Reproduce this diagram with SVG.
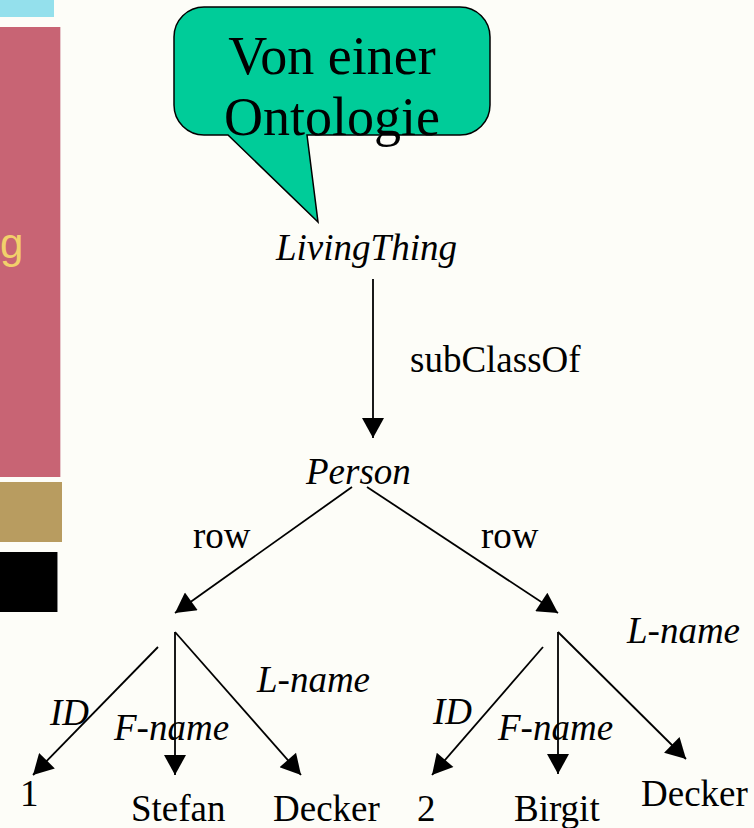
<svg xmlns="http://www.w3.org/2000/svg" width="754" height="828" viewBox="0 0 754 828">
  <style>
    .t { font-family: "Liberation Serif", "Times New Roman", serif; font-size: 37px; fill: #000; }
    .i { font-style: italic; }
    .c { text-anchor: middle; }
    .big { font-size: 54px; }
    .edge { stroke: #000; stroke-width: 1.8; fill: none; marker-end: url(#arrow); }
  </style>
  <defs>
    <marker id="arrow" markerUnits="userSpaceOnUse" markerWidth="22" markerHeight="22" viewBox="0 0 20 22" refX="20" refY="11" orient="auto">
      <path d="M0,0 L20,11 L0,22 Z" fill="#000"/>
    </marker>
  </defs>

  <!-- page background -->
  <rect x="0" y="0" width="754" height="828" fill="#fdfdf8"/>

  <!-- side strip of the slide -->
  <g id="side-strip">
    <rect x="0" y="0" width="54" height="17" fill="#94e0ec"/>
    <rect x="0" y="27" width="60" height="450" fill="#c86474"/>
    <line x1="60.5" y1="27" x2="60.5" y2="477" stroke="#e8c8cc" stroke-width="1"/>
    <text x="0" y="258" font-family="'Liberation Sans', Arial, sans-serif" font-size="42" fill="#f2d06b">g</text>
    <rect x="0" y="482" width="62" height="60" fill="#b89c60"/>
    <rect x="0" y="552" width="57" height="60" fill="#000"/>
    <line x1="57.5" y1="552" x2="57.5" y2="612" stroke="#888" stroke-width="1"/>
  </g>

  <!-- speech bubble -->
  <g id="callout">
    <path d="M204,7 H460 A30,30 0 0 1 490,37 V105 A30,30 0 0 1 460,135 H307 L318,222 L228,135 H204 A30,30 0 0 1 174,105 V37 A30,30 0 0 1 204,7 Z" fill="#00cc99" stroke="#000" stroke-width="1.5"/>
    <text class="t c big" x="332" y="74">Von einer</text>
    <text class="t c big" x="332" y="135">Ontologie</text>
  </g>

  <!-- connectors -->
  <g id="connectors">
    <line class="edge" x1="373" y1="279" x2="373" y2="438"/>
    <line class="edge" x1="352" y1="487" x2="175" y2="613"/>
    <line class="edge" x1="367" y1="487" x2="558" y2="613"/>
    <line class="edge" x1="158" y1="647" x2="33" y2="775"/>
    <line class="edge" x1="175" y1="632" x2="175" y2="775"/>
    <line class="edge" x1="175" y1="632" x2="301" y2="775"/>
    <line class="edge" x1="543" y1="647" x2="432" y2="775"/>
    <line class="edge" x1="558" y1="632" x2="558" y2="774"/>
    <line class="edge" x1="558" y1="632" x2="686" y2="759"/>
  </g>

  <!-- edge labels -->
  <g id="edge-labels">
    <text class="t" x="410" y="372">subClassOf</text>
    <text class="t" x="193" y="548">row</text>
    <text class="t" x="481" y="548">row</text>
    <text class="t i" x="50" y="725">ID</text>
    <text class="t i" x="114" y="740">F-name</text>
    <text class="t i" x="257" y="692">L-name</text>
    <text class="t i" x="433" y="724">ID</text>
    <text class="t i" x="498" y="740">F-name</text>
    <text class="t i" x="627" y="643">L-name</text>
  </g>

  <g id="node-livingthing"><text class="t i" x="276" y="260">LivingThing</text></g>
  <g id="node-person"><text class="t i" x="306" y="484">Person</text></g>

  <g id="node-1"><text class="t" x="20" y="806">1</text></g>
  <g id="node-stefan"><text class="t" x="131" y="821">Stefan</text></g>
  <g id="node-decker-1"><text class="t" x="273" y="821">Decker</text></g>
  <g id="node-2"><text class="t" x="417" y="821">2</text></g>
  <g id="node-birgit"><text class="t" x="514" y="821">Birgit</text></g>
  <g id="node-decker-2"><text class="t" x="641" y="806">Decker</text></g>
</svg>
